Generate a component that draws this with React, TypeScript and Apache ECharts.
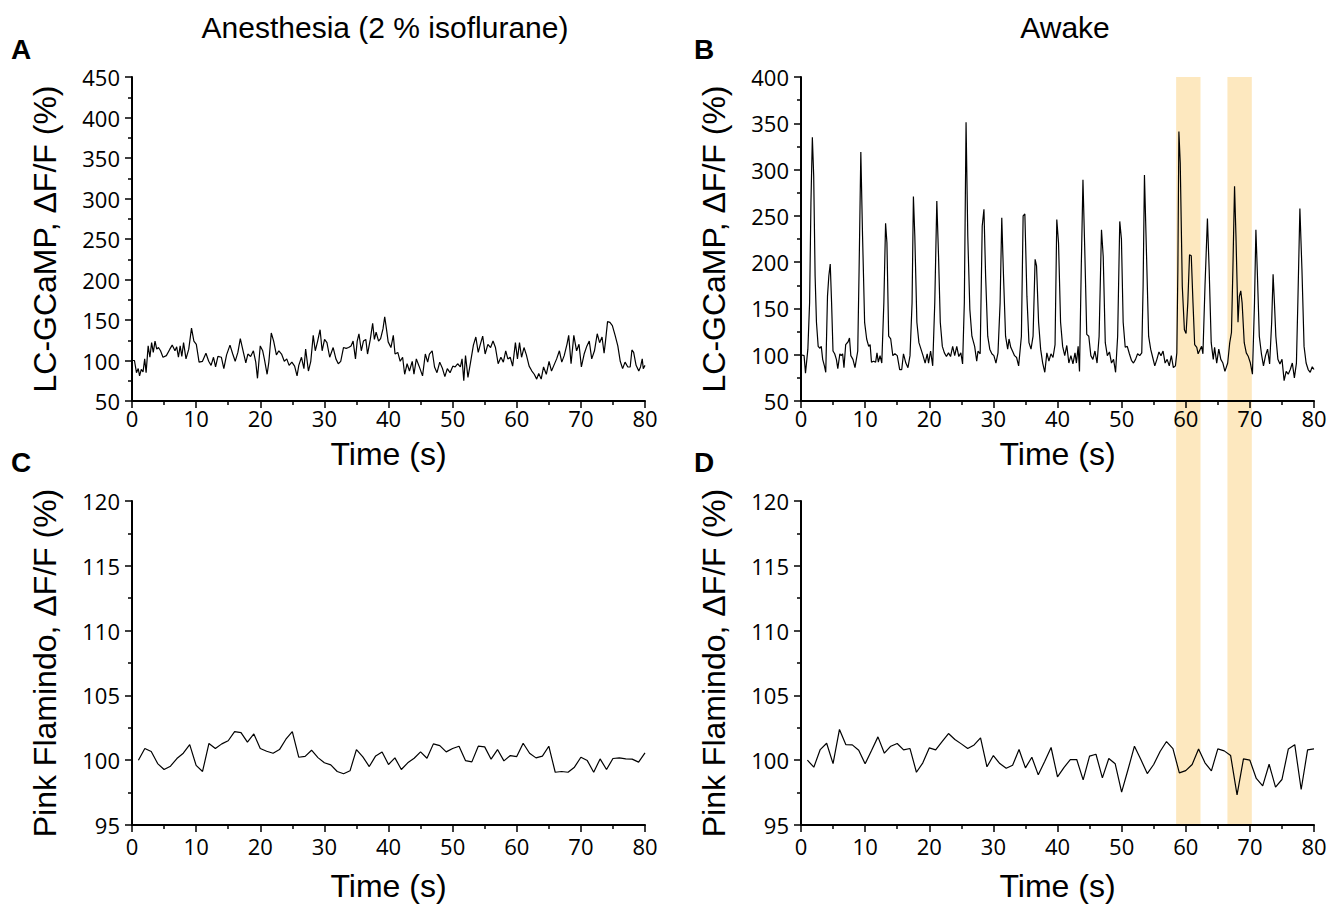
import React, { useEffect, useRef } from "react";
import * as echarts from "echarts";

// Panel A: LC-GCaMP, anesthesia (time s, value %)
const ANES_T = [0.0,0.38,0.7,0.97,1.18,1.45,1.72,1.98,2.2,2.52,2.79,3.06,3.32,3.59,3.86,4.13,4.45,4.83,5.36,5.9,6.27,6.7,6.97,7.24,7.51,7.77,8.04,8.42,8.85,9.28,9.65,10.03,10.46,10.99,11.53,11.96,12.33,12.71,13.03,13.4,13.94,14.32,14.75,15.28,15.71,16.09,16.51,16.89,17.32,17.75,18.07,18.5,18.93,19.3,19.57,20.0,20.38,20.64,21.07,21.34,21.72,22.09,22.52,22.9,23.32,23.75,24.13,24.5,24.93,25.36,25.74,26.01,26.43,26.81,27.08,27.51,27.88,28.26,28.58,28.95,29.33,29.65,30.03,30.4,30.83,31.37,31.8,32.17,32.55,32.98,33.4,33.78,34.16,34.48,34.85,35.12,35.39,35.76,36.09,36.46,36.73,37.16,37.53,37.8,38.07,38.45,38.77,39.14,39.41,39.68,39.95,40.38,40.75,41.02,41.45,41.82,42.2,42.52,42.9,43.27,43.7,43.97,44.34,44.77,45.31,45.74,46.11,46.38,46.81,47.18,47.56,47.99,48.42,48.79,49.17,49.6,50.03,50.4,50.78,51.21,51.47,51.74,52.01,52.39,52.82,53.24,53.62,53.99,54.32,54.69,55.07,55.5,55.92,56.3,56.68,57.1,57.53,57.91,58.28,58.61,58.98,59.36,59.79,60.11,60.43,60.75,61.13,61.5,61.93,62.36,62.73,63.11,63.43,63.81,64.18,64.61,65.04,65.42,65.79,66.22,66.65,67.02,67.4,67.83,68.1,68.47,68.9,69.33,69.71,70.08,70.51,70.94,71.31,71.69,72.12,72.55,72.92,73.3,73.62,73.83,74.16,74.53,74.91,75.34,75.76,76.14,76.51,76.89,77.32,77.69,77.96,78.23,78.61,79.03,79.3,79.57,79.73,80.0];
const ANES_V = [100,100,85,90,81,89,86,102,85,118,104,122,110,124,114,116,112,104,106,114,119,112,117,104,118,105,122,102,114,140,124,120,98,99,109,99,94,104,92,105,104,90,107,119,108,99,110,127,112,97,108,105,112,98,78,118,112,102,83,98,134,124,107,112,108,99,102,94,98,93,81,94,104,90,114,87,99,131,112,124,138,112,126,122,104,116,102,96,99,116,115,116,118,124,102,124,133,112,124,126,108,126,146,126,135,124,127,139,154,139,123,116,131,108,110,99,104,83,96,87,99,83,102,93,81,108,98,108,112,92,85,98,90,80,90,85,93,92,96,92,102,75,106,79,99,119,129,110,120,130,108,120,116,124,116,96,104,98,112,102,104,93,122,102,122,104,116,107,93,87,83,77,84,77,92,83,99,87,94,102,112,98,106,120,131,96,131,112,120,92,108,118,124,102,112,133,122,129,109,123,148,147,143,131,118,99,90,98,92,92,113,110,94,87,92,102,90,94];

// Panel B: LC-GCaMP, awake
const AWAKE_T = [0.0,0.48,0.7,1.07,1.34,1.55,1.77,1.98,2.2,2.41,2.68,2.95,3.16,3.38,3.65,3.86,4.13,4.34,4.56,4.77,4.99,5.25,5.52,5.74,6.06,6.27,6.49,6.7,6.97,7.35,7.56,7.77,8.1,8.42,8.85,9.06,9.33,9.6,9.92,10.24,10.56,10.78,10.99,11.31,11.64,11.85,12.06,12.33,12.6,12.92,13.19,13.4,13.67,13.99,14.32,14.64,15.01,15.39,15.71,15.98,16.35,16.68,17.0,17.32,17.53,17.75,18.07,18.39,18.71,19.03,19.36,19.68,19.89,20.21,20.54,20.86,21.18,21.45,21.72,22.04,22.36,22.68,23.0,23.32,23.65,23.97,24.29,24.61,24.93,25.2,25.47,25.74,26.01,26.33,26.65,27.08,27.4,27.61,27.94,28.26,28.53,28.79,29.12,29.44,29.76,30.08,30.4,30.72,31.05,31.31,31.58,31.9,32.23,32.44,32.71,32.98,33.3,33.62,33.94,34.37,34.64,34.91,35.23,35.55,35.87,36.19,36.51,36.73,37.05,37.37,37.69,38.02,38.34,38.66,38.98,39.3,39.62,39.89,40.16,40.48,40.8,41.13,41.45,41.77,42.09,42.41,42.73,42.95,43.22,43.43,43.7,43.97,44.24,44.56,44.88,45.2,45.52,45.84,46.17,46.49,46.86,47.13,47.45,47.77,48.1,48.42,48.74,49.06,49.38,49.71,49.97,50.24,50.56,50.88,51.21,51.53,51.85,52.17,52.49,52.82,53.14,53.35,53.56,53.89,54.21,54.53,54.85,55.17,55.5,55.82,56.14,56.46,56.78,57.1,57.43,57.75,58.07,58.39,58.61,58.77,58.93,59.14,59.46,59.79,60.05,60.32,60.59,60.86,61.13,61.39,61.72,61.93,62.25,62.47,62.68,63.0,63.38,63.65,63.97,64.29,64.5,64.83,65.15,65.47,65.79,66.11,66.54,66.86,67.13,67.35,67.61,67.83,68.15,68.36,68.58,68.79,69.12,69.44,69.76,70.08,70.4,70.72,70.94,71.15,71.47,71.8,72.12,72.44,72.76,73.08,73.4,73.62,73.83,74.05,74.37,74.69,75.01,75.34,75.66,75.98,76.3,76.62,76.94,77.26,77.48,77.8,78.12,78.45,78.77,79.09,79.41,79.73,80.0];
const AWAKE_V = [100,99,80,106,156,264,335,293,185,135,109,107,109,95,88,81,163,185,198,156,104,101,95,85,101,99,101,86,111,114,118,99,95,86,104,192,319,228,135,117,109,111,92,93,92,102,92,99,91,156,242,221,120,117,99,101,99,84,84,101,91,86,99,156,271,228,135,113,106,99,91,101,91,104,88,156,266,206,135,109,102,98,102,98,109,99,109,98,102,90,156,351,228,149,120,109,93,104,101,239,257,185,120,106,101,99,91,102,156,248,185,120,106,117,108,104,99,97,88,120,250,252,163,113,106,120,203,196,135,106,91,81,102,93,101,97,111,246,221,135,109,99,110,91,99,90,102,91,109,82,192,289,217,122,120,99,95,104,91,120,235,206,113,99,103,91,95,81,120,244,225,135,108,109,101,94,91,95,101,99,102,174,294,206,120,106,97,88,95,103,99,104,91,95,88,99,86,88,102,192,341,307,174,127,123,156,208,207,156,111,108,101,106,109,101,174,247,192,113,95,108,91,106,95,91,82,91,113,124,192,282,228,135,163,169,156,113,102,98,91,79,156,235,192,120,101,88,99,106,90,135,187,156,120,95,90,95,72,82,79,84,91,75,91,156,258,192,109,91,84,81,87,84];

// Panels C/D: Pink Flamindo, sampled once per second from t = 1 s
const PF_ANES_V = [100.0,100.9,100.67,99.74,99.28,99.54,100.13,100.54,101.2,99.6,99.13,101.29,100.9,101.26,101.5,102.2,102.13,101.39,102.03,100.9,100.69,100.54,100.82,101.62,102.2,100.23,100.3,100.77,100.2,99.8,99.64,99.13,98.95,99.18,100.82,100.26,99.51,100.33,100.64,99.67,100.18,99.28,99.8,100.15,100.64,100.15,101.26,101.13,100.64,100.9,101.08,99.97,99.87,101.08,101.03,100.08,100.82,99.95,100.36,100.28,101.31,100.54,100.18,100.31,101.08,99.07,99.13,99.07,99.46,100.23,99.97,99.07,100.1,99.28,100.13,100.18,100.1,100.08,99.85,100.56];
const PF_AWAKE_V = [100.0,99.46,100.82,101.31,99.74,102.37,101.2,101.18,100.77,99.72,100.75,101.8,100.54,101.08,101.29,100.8,100.9,99.07,99.8,100.95,100.8,101.44,102.06,101.6,101.26,100.9,101.18,101.72,99.49,100.36,99.74,99.38,99.61,100.82,99.41,100.23,98.87,99.9,100.98,98.71,99.43,100.05,100.05,98.48,100.31,100.46,98.64,100.13,99.72,97.53,99.28,101.08,100.05,98.97,99.67,100.67,101.44,100.9,99.02,99.2,99.67,100.87,99.8,99.18,100.87,100.72,100.36,97.33,100.1,100.0,98.59,98.02,99.69,97.92,98.51,100.87,101.2,97.74,100.8,100.87];
const PF_START = 1;

// Highlighted awake episodes (s)
const HIGHLIGHTS = [[58.5, 62.3], [66.5, 70.3]];

const TITLES = ["Anesthesia (2 % isoflurane)", "Awake"];
const LETTERS = ["A", "B", "C", "D"];
const Y_NAMES = ["LC-GCaMP, ΔF/F (%)", "LC-GCaMP, ΔF/F (%)", "Pink Flamindo, ΔF/F (%)", "Pink Flamindo, ΔF/F (%)"];
const Y_RANGES = [[50, 450, 50], [50, 400, 50], [95, 120, 5], [95, 120, 5]];
const X_RANGE = [0, 80, 10];

export default function App() {
  const ref = useRef<HTMLDivElement>(null);
  useEffect(() => {
    document.body.style.margin = "0";
    const chart = echarts.init(ref.current!, undefined, { renderer: "svg" });
    const grids = [
      { left: 132, top: 77, width: 513, height: 324 },
      { left: 801, top: 77, width: 513, height: 324 },
      { left: 132, top: 501, width: 513, height: 324 },
      { left: 801, top: 501, width: 513, height: 324 },
    ];
    const xNameGaps = [37, 37, 45, 45];
    const xLabelMargins = [6, 6, 10, 10];
    const tickFont = { fontFamily: "Open Sans", fontSize: 22, color: "#000" };
    const nameFont = { fontFamily: "Liberation Sans, Arial", fontSize: 32, color: "#000" };
    const axisLine = { show: true, onZero: false, lineStyle: { color: "#000", width: 2 } };
    const xAxes = grids.map((_, i) => ({
      type: "value",
      gridIndex: i,
      min: X_RANGE[0],
      max: X_RANGE[1],
      interval: X_RANGE[2],
      axisLine,
      axisTick: { show: true, length: 7, lineStyle: { color: "#000", width: 1.5 } },
      minorTick: { show: true, splitNumber: 2, length: 4, lineStyle: { color: "#000", width: 1.5 } },
      splitLine: { show: false },
      axisLabel: { ...tickFont, margin: xLabelMargins[i] },
      name: "Time (s)",
      nameLocation: "middle",
      nameGap: xNameGaps[i],
      nameTextStyle: nameFont,
    }));
    const yAxes = grids.map((_, i) => ({
      type: "value",
      gridIndex: i,
      min: Y_RANGES[i][0],
      max: Y_RANGES[i][1],
      interval: Y_RANGES[i][2],
      axisLine,
      axisTick: { show: true, length: 7, lineStyle: { color: "#000", width: 1.5 } },
      minorTick: { show: true, splitNumber: 2, length: 4, lineStyle: { color: "#000", width: 1.5 } },
      splitLine: { show: false },
      axisLabel: { ...tickFont, margin: 12 },
      name: Y_NAMES[i],
      nameLocation: "middle",
      nameRotate: 90,
      nameGap: 71,
      nameTextStyle: nameFont,
    }));
    const pair = (ts: number[], vs: number[]) => ts.map((t, k) => [t, vs[k]]);
    const pfPairs = (vs: number[]) => vs.map((v, k) => [PF_START + k, v]);
    const seriesData = [
      pair(ANES_T, ANES_V),
      pair(AWAKE_T, AWAKE_V),
      pfPairs(PF_ANES_V),
      pfPairs(PF_AWAKE_V),
    ];
    const series = seriesData.map((d, i) => ({
      type: "line",
      xAxisIndex: i,
      yAxisIndex: i,
      data: d,
      showSymbol: false,
      symbol: "none",
      silent: true,
      z: 5,
      lineStyle: { color: "#000", width: 1.2 },
    }));
    chart.setOption({
      animation: false,
      grid: grids,
      xAxis: xAxes,
      yAxis: yAxes,
      series,
    });
    const top = chart.convertToPixel({ yAxisIndex: 1 }, Y_RANGES[1][1]) as number;
    const bottom = chart.convertToPixel({ yAxisIndex: 3 }, Y_RANGES[3][0]) as number;
    const rects = HIGHLIGHTS.map(([a, b]) => {
      const x0 = chart.convertToPixel({ xAxisIndex: 1 }, a) as number;
      const x1 = chart.convertToPixel({ xAxisIndex: 1 }, b) as number;
      return {
        type: "rect",
        z: -10,
        silent: true,
        shape: { x: x0, y: top, width: x1 - x0, height: bottom - top },
        style: { fill: "#FDE8BF" },
      };
    });
    const titleFont = "30px 'Liberation Sans', Arial";
    const letterFont = "bold 28px 'Liberation Sans', Arial";
    const mk = (text: string, x: number, y: number, font: string, align: string) => ({
      type: "text",
      x,
      y,
      style: { text, font, fill: "#000", textAlign: align, textVerticalAlign: "middle" },
    });
    const texts = [
      mk(TITLES[0], 385, 27, titleFont, "center"),
      mk(TITLES[1], 1065, 27, titleFont, "center"),
      mk(LETTERS[0], 11, 49, letterFont, "left"),
      mk(LETTERS[1], 694, 49, letterFont, "left"),
      mk(LETTERS[2], 11, 462, letterFont, "left"),
      mk(LETTERS[3], 694, 462, letterFont, "left"),
    ];
    chart.setOption({ graphic: [...rects, ...texts] });
    return () => chart.dispose();
  }, []);
  return <div ref={ref} style={{ width: 1338, height: 908 }} />;
}
